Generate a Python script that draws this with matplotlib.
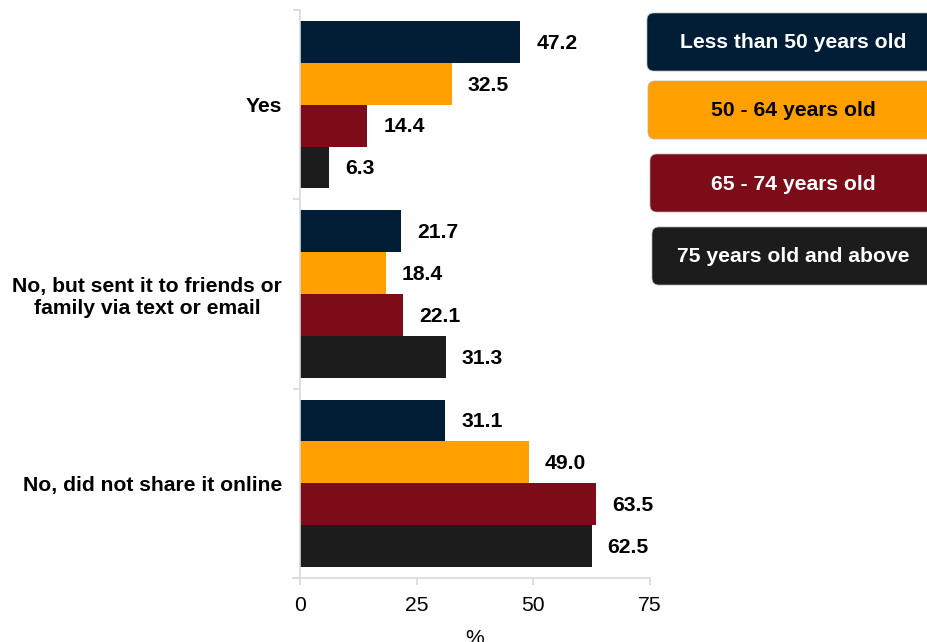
import numpy as np
import matplotlib.pyplot as plt
from matplotlib.patches import FancyBboxPatch

plt.rcParams['font.family'] = ['Liberation Sans', 'DejaVu Sans']

# Survey answers and share (%) by age group
answers = ['Yes', 'No, but sent it to friends or\nfamily via text or email', 'No, did not share it online']
age_groups = ['Less than 50 years old', '50 - 64 years old', '65 - 74 years old', '75 years old and above']
under_50 = [47.2, 21.7, 31.1]
age_50_64 = [32.5, 18.4, 49.0]
age_65_74 = [14.4, 22.1, 63.5]
age_75_up = [6.3, 31.3, 62.5]
colors = ['#001D36', '#FFA000', '#7B0C18', '#1C1C1C']
text_colors = ['white', 'black', 'white', 'white']

series = [under_50, age_50_64, age_65_74, age_75_up]

fig = plt.figure(figsize=(9.28, 6.42), dpi=100)
ax = fig.add_axes([300 / 928, 1 - 578 / 642, 350 / 928, 568 / 642])

bar_h = 0.221
centers = np.arange(len(answers)) + 0.5
for j, vals in enumerate(series):
    ys = centers + (j - 1.5) * bar_h
    bars = ax.barh(ys, vals, height=bar_h, color=colors[j], edgecolor='none')
    for b, v in zip(bars, vals):
        ax.annotate(f'{v:.1f}', (v, b.get_y() + b.get_height() / 2),
                    xytext=(11.5, -1), textcoords='offset points',
                    va='center', ha='left', fontsize=15.2, fontweight='bold')

ax.set_xlim(0, 75)
ax.set_ylim(3, 0)
ax.set_xticks([0, 25, 50, 75])
ax.tick_params(axis='x', labelsize=15.2, length=5, width=1.2, color='#D9D9D9', pad=8)
ax.set_xlabel('%', fontsize=15.2, labelpad=10)

# category labels sit between the boundary ticks
ax.set_yticks(centers)
ax.set_yticklabels(answers, fontsize=15.2, fontweight='bold', multialignment='center')
ax.tick_params(axis='y', which='major', length=0, pad=13)
ax.set_yticks(np.arange(len(answers) + 1), minor=True)
ax.tick_params(axis='y', which='minor', length=5, width=1.2, color='#D9D9D9')

for side in ['top', 'right']:
    ax.spines[side].set_visible(False)
for side in ['left', 'bottom']:
    ax.spines[side].set_color('#D9D9D9')
    ax.spines[side].set_linewidth(1.2)
ax.spines['bottom'].set_bounds(-1.5, 75)

# age-group key drawn as rounded boxes, in pixel units
key = fig.add_axes([0, 0, 1, 1], zorder=2)
key.set_xlim(0, 928)
key.set_ylim(642, 0)
key.axis('off')
box_tops = [13, 81, 154, 227]
box_left = [647, 648, 650, 652]
for name, top, left, fc, tc in zip(age_groups, box_tops, box_left, colors, text_colors):
    key.add_patch(FancyBboxPatch((left, top), 320, 58,
                                 boxstyle='round,pad=0,rounding_size=7',
                                 facecolor=fc, edgecolor='#B0B0B0', linewidth=0.5))
    key.text(793, top + 30, name, ha='center', va='center', fontsize=15.2,
             fontweight='bold', color=tc)

fig.savefig('out.png', dpi=100)
